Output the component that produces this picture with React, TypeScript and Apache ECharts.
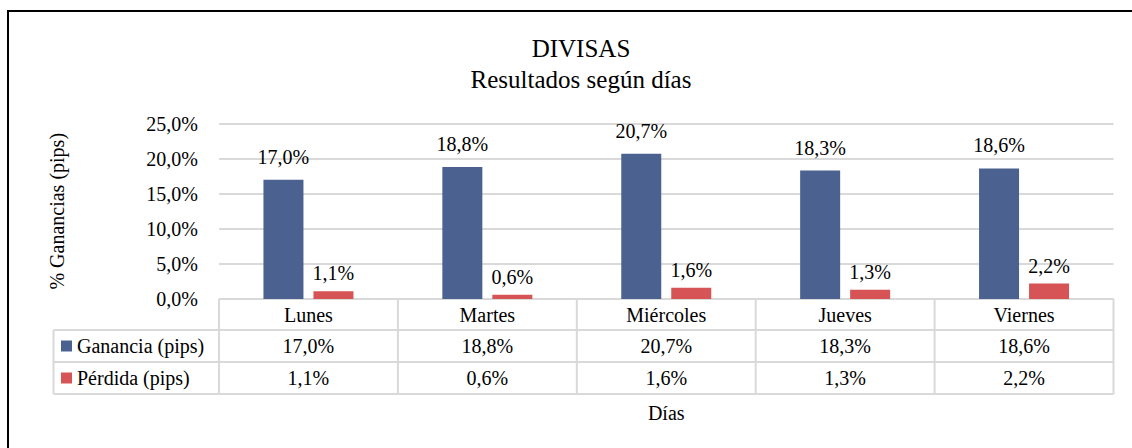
import React, { useEffect, useRef } from "react";
import * as echarts from "echarts";

const days = ["Lunes", "Martes", "Miércoles", "Jueves", "Viernes"];
const ganancia = [17.0, 18.8, 20.7, 18.3, 18.6];
const perdida = [1.1, 0.6, 1.6, 1.3, 2.2];
const seriesNames = ["Ganancia (pips)", "Pérdida (pips)"];
const yTicks = { min: 0, max: 25, interval: 5 };

const FONT = "Liberation Serif";
const BLUE = "#4B6290";
const RED = "#D65455";
const GRID_LINE = "#D9D9D9";

const fmt = (v: number) => v.toFixed(1).replace(".", ",") + "%";

export default function App() {
  const ref = useRef<HTMLDivElement>(null);
  useEffect(() => {
    document.body.style.margin = "0";
    if (!ref.current) return;
    const chart = echarts.init(ref.current, undefined, { renderer: "svg" });

    const W = 1132, H = 448;
    const gLeft = 219, gRight = 1113.5, gTop = 123.5, gBottom = 299;
    const rowH = 32;
    const tableLeft = 53.5;
    const r1 = gBottom, r2 = gBottom + 31, r3 = r2 + rowH, r4 = r3 + rowH;
    const colW = (gRight - gLeft) / days.length;

    const graphics: any[] = [];
    graphics.push({
      type: "rect",
      shape: { x: 8, y: 11, width: 1200, height: 600 },
      style: { fill: "none", stroke: "#000", lineWidth: 2 },
      silent: true,
    });
    const hl = (x1: number, x2: number, y: number) =>
      graphics.push({ type: "line", shape: { x1, y1: y, x2, y2: y }, style: { stroke: GRID_LINE, lineWidth: 2 }, silent: true });
    const vl = (x: number, y1: number, y2: number) =>
      graphics.push({ type: "line", shape: { x1: x, y1, x2: x, y2 }, style: { stroke: GRID_LINE, lineWidth: 2 }, silent: true });
    hl(gLeft, gRight, r1);
    hl(tableLeft, gRight, r2);
    hl(tableLeft, gRight, r3);
    hl(tableLeft, gRight, r4);
    vl(tableLeft, r2, r4);
    for (let i = 0; i <= days.length; i++) vl(gLeft + colW * i, r1, r4);

    const rows = [ganancia, perdida];
    rows.forEach((arr, ri) => {
      const cy = (ri === 0 ? r2 : r3) + rowH / 2;
      arr.forEach((v, ci) => {
        graphics.push({
          type: "text",
          x: gLeft + colW * (ci + 0.5),
          y: cy,
          style: { text: fmt(v), fontSize: 20, fontFamily: FONT, fill: "#000", align: "center", verticalAlign: "middle" },
          silent: true,
        });
      });
    });

    chart.setOption({
      animation: false,
      title: {
        text: "DIVISAS\nResultados según días",
        left: 576,
        top: 28,
        textAlign: "center",
        textStyle: { fontFamily: FONT, fontSize: 25, fontWeight: "normal", color: "#000", lineHeight: 31 },
      },
      legend: {
        orient: "vertical",
        left: 61,
        top: r2 + 6,
        padding: 0,
        itemGap: 12,
        itemWidth: 11,
        itemHeight: 11,
        icon: "rect",
        data: seriesNames,
        textStyle: { fontFamily: FONT, fontSize: 20, color: "#000", lineHeight: 20 },
      },
      grid: { left: gLeft, right: W - gRight, top: gTop, bottom: H - gBottom, containLabel: false },
      xAxis: {
        type: "category",
        data: days,
        name: "Días",
        nameLocation: "middle",
        nameGap: 104,
        nameTextStyle: { fontFamily: FONT, fontSize: 20, color: "#000" },
        axisLine: { show: false },
        axisTick: { show: false },
        axisLabel: { fontFamily: FONT, fontSize: 20, color: "#000", margin: 6, verticalAlign: "top", lineHeight: 20 },
      },
      yAxis: {
        type: "value",
        min: yTicks.min,
        max: yTicks.max,
        interval: yTicks.interval,
        name: "% Ganancias (pips)",
        nameLocation: "middle",
        nameGap: 152,
        nameTextStyle: { fontFamily: FONT, fontSize: 20, color: "#000" },
        axisLine: { show: false },
        axisTick: { show: false },
        axisLabel: { fontFamily: FONT, fontSize: 20, color: "#000", margin: 21, formatter: (v: number) => fmt(v) },
        splitLine: { lineStyle: { color: GRID_LINE, width: 2 } },
      },
      series: [
        {
          name: seriesNames[0],
          type: "bar",
          data: ganancia,
          barWidth: 40,
          barGap: "25%",
          itemStyle: { color: BLUE },
          label: { show: true, position: "top", distance: 13, fontFamily: FONT, fontSize: 20, color: "#000", formatter: (p: any) => fmt(p.value) },
        },
        {
          name: seriesNames[1],
          type: "bar",
          data: perdida,
          barWidth: 40,
          barGap: "25%",
          itemStyle: { color: RED },
          label: { show: true, position: "top", distance: 8, fontFamily: FONT, fontSize: 20, color: "#000", formatter: (p: any) => fmt(p.value) },
        },
      ],
      graphic: graphics,
    });
    return () => chart.dispose();
  }, []);
  return <div ref={ref} style={{ width: 1132, height: 448 }} />;
}
